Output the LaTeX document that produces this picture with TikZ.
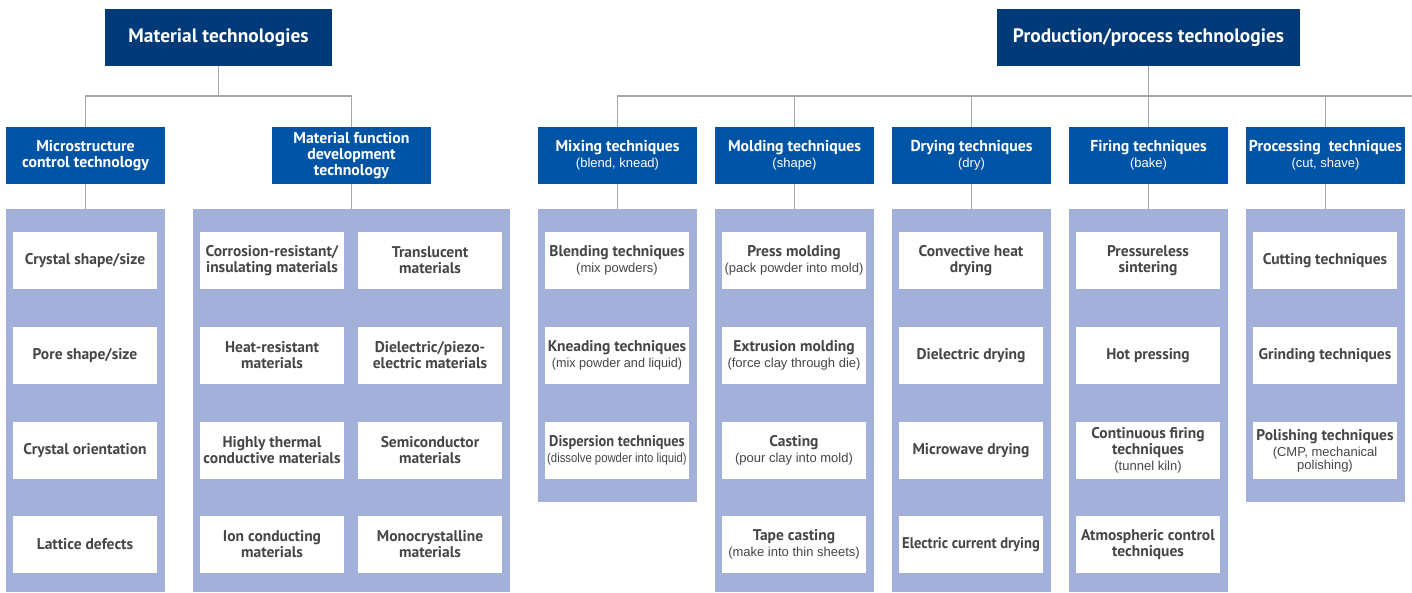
\documentclass[tikz,border=0pt]{standalone}
\usepackage{fontspec}
\usepackage{graphicx}
\setmainfont{PT Sans}
\newfontfamily\arialf{Liberation Sans}
\definecolor{navy}{RGB}{0,58,120}
\definecolor{hblue}{RGB}{0,84,166}
\definecolor{panelc}{RGB}{163,176,218}
\definecolor{linec}{RGB}{166,166,166}
\definecolor{txtc}{RGB}{70,70,70}
\newcommand\smtxt{\arialf\mdseries\fontsize{13}{14}\selectfont}
\newcommand\sqz[2]{\scalebox{#1}[1]{#2}}
\begin{document}
\begin{tikzpicture}[x=1pt,y=-1pt,
  topbox/.style={fill=navy,text=white,font=\bfseries\fontsize{19.4}{22}\selectfont,minimum width=227pt,minimum height=57pt,inner sep=0pt},
  subbox/.style={fill=hblue,text=white,font=\bfseries\fontsize{15.8}{16}\selectfont,minimum width=159pt,minimum height=57pt,inner sep=0pt,align=center},
  itembox/.style={fill=white,text=txtc,font=\bfseries\fontsize{15.5}{16}\selectfont,minimum width=144pt,minimum height=57pt,inner sep=0pt,align=center},
  panelbox/.style={fill=panelc,inner sep=0pt,minimum width=159pt,anchor=north},
  conn/.style={draw=linec,line width=1.6pt}]
\useasboundingbox (0,0) rectangle (1412,592);
% top headers
\node[topbox] (mt) at (218.5,37.5) {Material technologies};
\node[topbox,minimum width=303pt] (pt) at (1148.5,37.5) {Production/process technologies};
% sub headers
\node[subbox] (ms) at (85.5,155.5) {Microstructure\\control technology};
\node[subbox] (mf) at (351.5,155.5) {Material function\\development\\technology};
\node[subbox] (mix) at (617.5,155.5) {Mixing techniques\\{\smtxt (blend, knead)}};
\node[subbox] (mold) at (794.5,155.5) {Molding techniques\\{\smtxt (shape)}};
\node[subbox] (dry) at (971.5,155.5) {Drying techniques\\{\smtxt (dry)}};
\node[subbox] (fire) at (1148.5,155.5) {Firing techniques\\{\smtxt (bake)}};
\node[subbox] (proc) at (1325.5,155.5) {Processing\ \ techniques\\{\smtxt (cut, shave)}};
% panels
\node[panelbox,minimum height=383pt] (pms) at (85.5,209) {};
\node[panelbox,minimum width=317pt,minimum height=383pt] (pmf) at (351.5,209) {};
\node[panelbox,minimum height=293pt] (pmix) at (617.5,209) {};
\node[panelbox,minimum height=383pt] (pmold) at (794.5,209) {};
\node[panelbox,minimum height=383pt] (pdry) at (971.5,209) {};
\node[panelbox,minimum height=383pt] (pfire) at (1148.5,209) {};
\node[panelbox,minimum height=293pt] (pproc) at (1325.5,209) {};
% connectors
\draw[conn] (mt.south) -- ++(0,30) coordinate (mtj);
\draw[conn] (ms.north) |- (mtj) -| (mf.north);
\coordinate (bus) at (1412,96);
\draw[conn] (pt.south) -- (pt.south |- bus);
\draw[conn] (mix.north) |- (bus);
\draw[conn] (mold.north) -- (mold.north |- bus);
\draw[conn] (dry.north) -- (dry.north |- bus);
\draw[conn] (fire.north) -- (fire.north |- bus);
\draw[conn] (proc.north) -- (proc.north |- bus);
\foreach \a/\b in {ms/pms,mf/pmf,mix/pmix,mold/pmold,dry/pdry,fire/pfire,proc/pproc}
  \draw[conn] (\a.south) -- (\b.north);
% microstructure items
\node[itembox] (a1) at (85,260.5) {Crystal shape/size};
\node[itembox] (a2) at (85,355.5) {Pore shape/size};
\node[itembox] (a3) at (85,450.5) {Crystal orientation};
\node[itembox] (a4) at (85,544.5) {Lattice defects};
% material function items
\node[itembox] (b1) at (272,260.5) {Corrosion-resistant/\\insulating materials};
\node[itembox] (b2) at (272,355.5) {Heat-resistant\\materials};
\node[itembox] (b3) at (272,450.5) {Highly thermal\\conductive materials};
\node[itembox] (b4) at (272,544.5) {Ion conducting\\materials};
\node[itembox] (c1) at (430,260.5) {Translucent\\materials};
\node[itembox] (c2) at (430,355.5) {Dielectric/piezo-\\electric materials};
\node[itembox] (c3) at (430,450.5) {Semiconductor\\materials};
\node[itembox] (c4) at (430,544.5) {Monocrystalline\\materials};
% mixing
\node[itembox] (d1) at (617,260.5) {Blending techniques\\{\smtxt (mix powders)}};
\node[itembox] (d2) at (617,355.5) {Kneading techniques\\{\smtxt \sqz{0.97}{(mix powder and liquid)}}};
\node[itembox] (d3) at (617,450.5) {\sqz{0.93}{Dispersion techniques}\\{\smtxt \sqz{0.87}{(dissolve powder into liquid)}}};
% molding
\node[itembox] (e1) at (794,260.5) {Press molding\\{\smtxt (pack powder into mold)}};
\node[itembox] (e2) at (794,355.5) {Extrusion molding\\{\smtxt (force clay through die)}};
\node[itembox] (e3) at (794,450.5) {Casting\\{\smtxt (pour clay into mold)}};
\node[itembox] (e4) at (794,544.5) {Tape casting\\{\smtxt (make into thin sheets)}};
% drying
\node[itembox] (f1) at (971,260.5) {Convective heat\\drying};
\node[itembox] (f2) at (971,355.5) {Dielectric drying};
\node[itembox] (f3) at (971,450.5) {Microwave drying};
\node[itembox] (f4) at (971,544.5) {\sqz{0.94}{Electric current drying}};
% firing
\node[itembox] (g1) at (1148,260.5) {Pressureless\\sintering};
\node[itembox] (g2) at (1148,355.5) {Hot pressing};
\node[itembox] (g3) at (1148,450.5) {Continuous firing\\techniques\\{\smtxt (tunnel kiln)}};
\node[itembox] (g4) at (1148,544.5) {Atmospheric control\\techniques};
% processing
\node[itembox] (h1) at (1325,260.5) {Cutting techniques};
\node[itembox] (h2) at (1325,355.5) {Grinding techniques};
\node[itembox] (h3) at (1325,450.5) {Polishing techniques\\{\smtxt (CMP, mechanical}\\[-3pt]{\smtxt polishing)}};
\end{tikzpicture}
\end{document}
